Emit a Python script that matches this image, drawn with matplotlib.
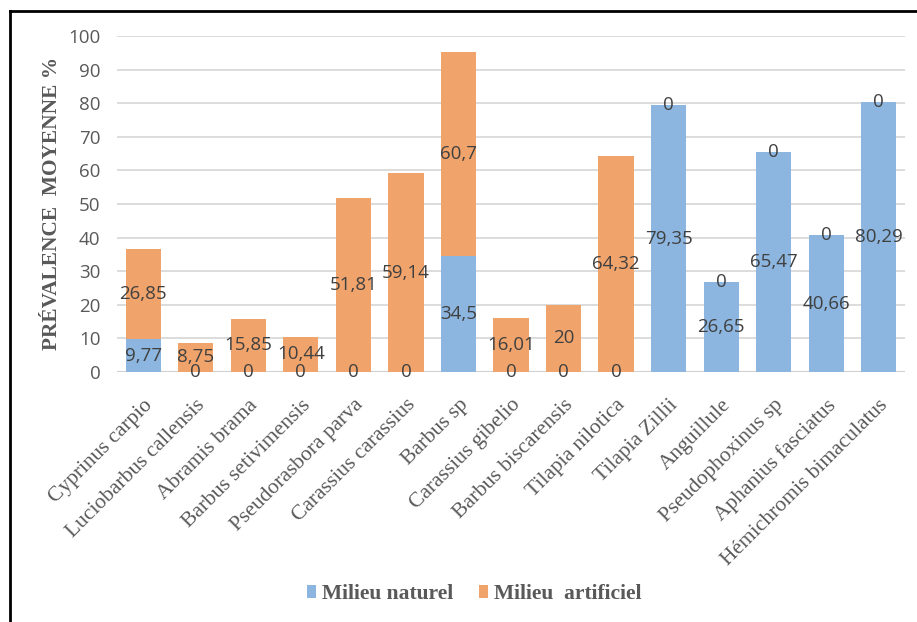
import matplotlib
matplotlib.use("Agg")
import matplotlib.pyplot as plt
from matplotlib.lines import Line2D
import numpy as np

species = ["Cyprinus carpio", "Luciobarbus callensis", "Abramis brama",
           "Barbus setivimensis", "Pseudorasbora parva", "Carassius carassius",
           "Barbus sp", "Carassius gibelio", "Barbus biscarensis",
           "Tilapia nilotica", "Tilapia Zillii", "Anguillule",
           "Pseudophoxinus sp", "Aphanius fasciatus", "Hémichromis bimaculatus"]
naturel = [9.77, 0, 0, 0, 0, 0, 34.5, 0, 0, 0, 79.35, 26.65, 65.47, 40.66, 80.29]
artificiel = [26.85, 8.75, 15.85, 10.44, 51.81, 59.14, 60.7, 16.01, 20, 64.32, 0, 0, 0, 0, 0]
yticks = [0, 10, 20, 30, 40, 50, 60, 70, 80, 90, 100]

c_nat = '#8CB6E0'
c_art = '#F0A46C'

def fmt(v):
    return f"{v:g}".replace('.', ',')

fig = plt.figure(figsize=(9.17, 6.22), dpi=100)
ax = fig.add_axes([117/917, 1 - 372/622, (905 - 117)/917, (372 - 36)/622])

x = np.arange(len(species))
b1 = ax.bar(x, naturel, width=0.67, color=c_nat, label='Milieu naturel', zorder=3)
b2 = ax.bar(x, artificiel, width=0.67, bottom=naturel, color=c_art,
            label='Milieu  artificiel', zorder=3)

ax.bar_label(b1, labels=[fmt(v) for v in naturel], label_type='center',
             color='#404040', fontsize=13.5, family='Open Sans', zorder=4)
ax.bar_label(b2, labels=[fmt(v) for v in artificiel], label_type='center',
             color='#404040', fontsize=13.5, family='Open Sans', zorder=4)

ax.set_xlim(-0.5, len(species) - 0.5)
ax.set_ylim(0, 100)
ax.set_yticks(yticks)
ax.set_yticklabels([str(t) for t in yticks], color='#595959', fontsize=13.5,
                   family='Open Sans')
ax.yaxis.grid(True, color='#D9D9D9', lw=1.3, zorder=0)
ax.tick_params(axis='both', length=0)
ax.tick_params(axis='y', pad=12)
for key, spine in ax.spines.items():
    spine.set_visible(False)
ax.axhline(0, color='#D0D0D0', lw=1.5, zorder=2)

ax.set_xticks(x)
ax.set_xticklabels(species, rotation=45, ha='right', rotation_mode='anchor',
                   family='Liberation Serif', fontsize=15.5, color='#595959')
ax.tick_params(axis='x', pad=17)

fig.text(52/917, 1 - 203/622, 'PRÉVALENCE  MOYENNE %', rotation=90,
         ha='center', va='center', family='Liberation Serif',
         weight='bold', fontsize=15.4, color='#595959')

fig.legend(handles=[b1, b2], loc='center', bbox_to_anchor=(474/917, 1 - 594/622),
           ncol=2, frameon=False, handlelength=0.45, handleheight=0.6,
           columnspacing=1.2, handletextpad=0.25,
           prop={'family': 'Liberation Serif', 'weight': 'bold', 'size': 15.5})
for t in fig.legends[0].get_texts():
    t.set_color('#595959')

# frame
fig.add_artist(Line2D([10/917, 10/917], [0, 1 - 11/622], color='black', lw=2,
                      transform=fig.transFigure))
fig.add_artist(Line2D([10/917, 1], [1 - 11/622, 1 - 11/622], color='black', lw=2,
                      transform=fig.transFigure))

fig.savefig('out.png', dpi=100)
